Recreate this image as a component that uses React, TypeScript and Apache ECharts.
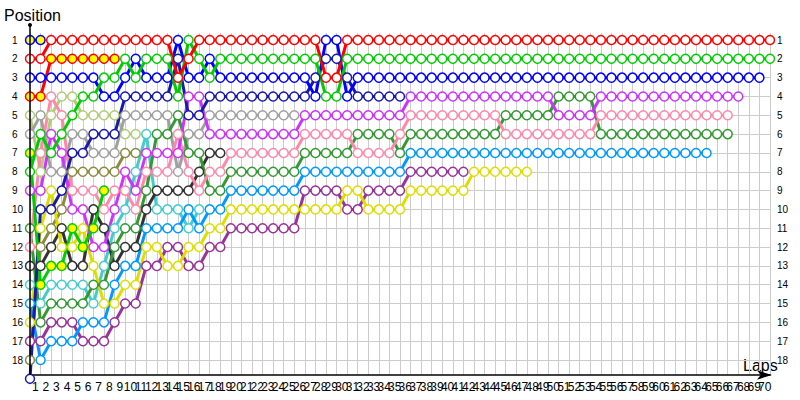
import React, { useEffect, useRef } from "react";
import * as echarts from "echarts";

// Lap labels (1..70) shown centred in each lap interval
const LAP_LABELS: string[] = [
  "1","2","3","4","5","6","7","8","9","10","11","12","13","14","15","16","17","18","19","20",
  "21","22","23","24","25","26","27","28","29","30","31","32","33","34","35","36","37","38","39","40",
  "41","42","43","44","45","46","47","48","49","50","51","52","53","54","55","56","57","58","59","60",
  "61","62","63","64","65","66","67","68","69","70",
];

// Positions per lap (index 0 = start grid, index n = after lap n)
const RED = [2,2,1,1,1,1,1,1,1,1,1,1,1,1,3,2,1,1,1,1,1,1,1,1,1,1,1,1,3,3,
  1,1,1,1,1,1,1,1,1,1,1,1,1,1,1,1,1,1,1,1,1,1,1,1,1,1,1,1,1,1,1,1,1,1,1,1,1,1,1,1,1];
const GREEN = [8,6,7,6,5,4,4,3,3,2,3,2,2,2,4,1,2,3,2,2,2,2,2,2,2,2,2,2,4,4,
  2,2,2,2,2,2,2,2,2,2,2,2,2,2,2,2,2,2,2,2,2,2,2,2,2,2,2,2,2,2,2,2,2,2,2,2,2,2,2,2,2];
const BLUE = [3,3,3,3,3,3,3,4,4,3,2,3,3,3,1,3,3,2,3,3,3,3,3,3,3,3,3,4,1,1,
  4,3,3,3,3,3,3,3,3,3,3,3,3,3,3,3,3,3,3,3,3,3,3,3,3,3,3,3,3,3,3,3,3,3,3,3,3,3,3,3];
const NAVY = [19,10,10,9,7,7,6,6,6,4,4,4,4,4,2,5,5,4,4,4,4,4,4,4,4,4,4,3,2,2,3,4,4,4,4,4];
const MAGENTA = [9,9,6,7,10,10,12,12,10,8,9,7,7,7,7,4,4,6,6,6,6,6,6,6,6,6,
  5,5,5,5,5,5,5,5,5,5,4,4,4,4,4,4,4,4,4,4,4,4,4,4,5,5,5,5,4,4,4,4,4,4,4,4,4,4,4,4,4,4];
const PINK = [12,7,4,5,9,9,9,10,9,9,10,8,8,8,6,8,9,8,8,7,7,7,7,7,7,7,6,6,6,6,6,7,7,7,7,6,
  5,5,5,5,5,5,5,5,5,6,6,6,6,6,6,6,6,6,5,5,5,5,5,5,5,5,5,5,5,5,5];
const DARK_GREEN = [11,16,15,15,15,15,14,14,12,11,11,9,6,6,5,7,7,9,9,8,8,8,8,8,8,8,7,7,7,7,7,6,6,6,6,7,
  6,6,6,6,6,6,6,6,6,5,5,5,5,5,4,4,4,4,6,6,6,6,6,6,6,6,6,6,6,6,6];
const LIGHT_BLUE = [15,18,17,17,17,16,16,16,14,13,13,11,11,11,11,10,11,10,10,9,9,9,9,9,9,9,
  8,8,8,8,8,8,8,8,8,8,7,7,7,7,7,7,7,7,7,7,7,7,7,7,7,7,7,7,7,7,7,7,7,7,7,7,7,7,7];
const YELLOW = [16,11,9,12,12,11,13,15,15,14,14,12,12,13,13,12,12,11,11,10,10,10,10,10,10,10,10,10,10,10,
  9,9,10,10,10,10,9,9,9,9,9,9,8,8,8,8,8,8];
const PURPLE = [17,17,16,16,16,17,17,17,16,15,15,13,13,12,12,13,13,12,12,11,11,11,11,11,11,11,
  9,9,9,9,10,10,9,9,9,9,8,8,8,8,8,8];
const GRAY = [6,5,8,8,6,6,7,7,7,5,5,5,5,5,8,6,6,5,5,5,5,5,5,5,5,5];
const BLACK = [13,13,12,11,13,13,10,11,13,12,12,10,9,9,9,9,8,7,7];
const CYAN = [14,15,14,14,14,14,15,13,11,10,8,6,10,10,10,11,10];
const LIGHT_OLIVE = [5,8,5,4,4,5,5,5,5,6,6];
const KHAKI = [18,12,11,10,8,8,8,8,8,7,7];
const GREEN_Y = [7,14,13,13,11,12,11,9];
const RED_Y = [4,4,2,2,2,2,2,2,2];
const BLUE_Y = [1,1];

const DRIVERS = [
  { name: "Khaki", color: "#8a8a40", fill: "#ffffff", pos: KHAKI },
  { name: "Light olive", color: "#b0cc7a", fill: "#ffffff", pos: LIGHT_OLIVE },
  { name: "Cyan", color: "#44cccc", fill: "#ffffff", pos: CYAN },
  { name: "Black", color: "#333333", fill: "#ffffff", pos: BLACK },
  { name: "Gray", color: "#a0a0a0", fill: "#ffffff", pos: GRAY },
  { name: "Purple", color: "#993399", fill: "#ffffff", pos: PURPLE },
  { name: "Yellow", color: "#dddd00", fill: "#ffffff", pos: YELLOW },
  { name: "Light blue", color: "#0099ff", fill: "#ffffff", pos: LIGHT_BLUE },
  { name: "Dark green", color: "#339933", fill: "#ffffff", pos: DARK_GREEN },
  { name: "Pink", color: "#ff88aa", fill: "#ffffff", pos: PINK },
  { name: "Magenta", color: "#cc33ff", fill: "#ffffff", pos: MAGENTA },
  { name: "Navy", color: "#1a1aaa", fill: "#ffffff", pos: NAVY },
  { name: "Green Y", color: "#00cc00", fill: "#ffff00", pos: GREEN_Y },
  { name: "Red Y", color: "#ff0000", fill: "#ffff00", pos: RED_Y },
  { name: "Blue Y", color: "#0000ff", fill: "#ffff00", pos: BLUE_Y },
  { name: "Blue", color: "#0000ff", fill: "#ffffff", pos: BLUE },
  { name: "Green", color: "#00cc00", fill: "#ffffff", pos: GREEN },
  { name: "Red", color: "#ff0000", fill: "#ffffff", pos: RED },
];

const FONT = "Liberation Sans, Arial, sans-serif";
const GRID_COLOR = "#cccccc";

export default function App() {
  const ref = useRef<HTMLDivElement>(null);
  useEffect(() => {
    document.body.style.margin = "0";
    if (!ref.current) return;
    const chart = echarts.init(ref.current, undefined, { renderer: "svg" });
    const series = DRIVERS.map((d) => ({
      type: "line",
      name: d.name,
      xAxisIndex: 0,
      yAxisIndex: 0,
      data: d.pos.map((p, i) => [i, p]),
      symbol: "circle",
      symbolSize: 9,
      showAllSymbol: true,
      clip: false,
      lineStyle: { color: d.color, width: 3 },
      itemStyle: { color: d.fill, borderColor: d.color, borderWidth: 1.5 },
      emphasis: { disabled: true },
      silent: true,
    }));
    chart.setOption({
      animation: false,
      backgroundColor: "#ffffff",
      grid: [
        { left: 30, right: 30, top: 33, bottom: 25 },
        { left: 30, right: 30, top: 40, bottom: 40 },
      ],
      xAxis: [
        {
          gridIndex: 0,
          type: "value",
          min: 0,
          max: 70,
          interval: 1,
          axisLabel: { show: false },
          axisTick: { show: false },
          splitLine: { show: true, lineStyle: { color: GRID_COLOR, width: 1 } },
          axisLine: {
            show: true,
            onZero: false,
            lineStyle: { color: "#000000", width: 1.5 },
            symbol: ["none", "arrow"],
            symbolSize: [7, 15],
            symbolOffset: [0, 2],
          },
        },
        {
          gridIndex: 0,
          type: "category",
          data: LAP_LABELS,
          boundaryGap: true,
          position: "bottom",
          axisLine: { show: false },
          axisTick: { show: false },
          splitLine: { show: false },
          axisLabel: {
            interval: 0,
            hideOverlap: false,
            fontSize: 12,
            color: "#000000",
            margin: 6,
            fontFamily: FONT,
          },
        },
        { gridIndex: 1, type: "value", min: 0, max: 70, show: false },
      ],
      yAxis: [
        { gridIndex: 0, type: "value", inverse: true, min: 0.628, max: 18.797, show: false },
        {
          gridIndex: 1,
          type: "value",
          inverse: true,
          min: 1,
          max: 18,
          interval: 1,
          position: "left",
          axisLine: { show: false },
          axisTick: { show: false },
          splitLine: { show: true, lineStyle: { color: GRID_COLOR, width: 1 } },
          axisLabel: { align: "left", margin: 18, fontSize: 10, color: "#000000", fontFamily: FONT },
        },
        {
          gridIndex: 1,
          type: "value",
          inverse: true,
          min: 1,
          max: 18,
          interval: 1,
          position: "right",
          axisLine: { show: false },
          axisTick: { show: false },
          splitLine: { show: false },
          axisLabel: { align: "left", margin: 7, fontSize: 10, color: "#000000", fontFamily: FONT },
        },
      ],
      graphic: [
        { type: "line", shape: { x1: 30, y1: 25, x2: 30, y2: 375 }, style: { stroke: "#000000", lineWidth: 1.5 }, z: 10 },
        { type: "circle", shape: { cx: 30, cy: 25, r: 2 }, style: { fill: "#000000" }, z: 10 },
        {
          type: "text",
          x: 4,
          y: 15,
          style: { text: "Position", font: `16px ${FONT}`, fill: "#000000", verticalAlign: "middle" },
        },
        {
          type: "text",
          x: 743,
          y: 365,
          style: { text: "Laps", font: `16px ${FONT}`, fill: "#000000", verticalAlign: "middle" },
        },
      ],
      series,
    });
    return () => chart.dispose();
  }, []);
  return <div ref={ref} style={{ width: 800, height: 400 }} />;
}
